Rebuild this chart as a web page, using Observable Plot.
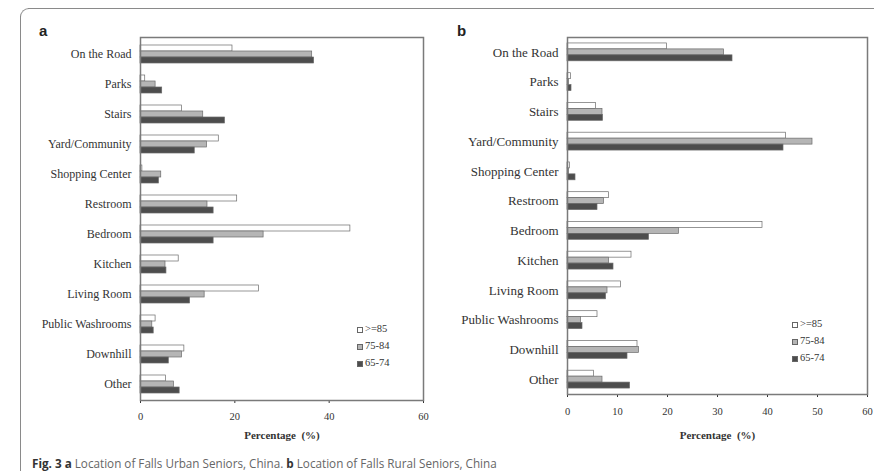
<!DOCTYPE html>
<html>
<head>
<meta charset="utf-8">
<script src="https://cdn.jsdelivr.net/npm/d3@7"></script>
<script src="https://cdn.jsdelivr.net/npm/@observablehq/plot@0.6"></script>
<style>
  html, body { margin: 0; padding: 0; background: #fff; overflow: hidden; }
  body { width: 874px; height: 471px; position: relative; font-family: "Liberation Serif", serif; }
  #ftop { position: absolute; left: 28px; top: 8px; width: 846px; height: 0; border-top: 1.5px solid #8a8a8a; }
  #fleft { position: absolute; left: 20px; top: 16px; width: 0; height: 455px; border-left: 1.5px solid #8a8a8a; }
  #fcorner { position: absolute; left: 20px; top: 8px; width: 16px; height: 16px; border-top: 1.5px solid #8a8a8a; border-left: 1.5px solid #8a8a8a; border-top-left-radius: 9px; box-sizing: border-box; }
  .panel { position: absolute; top: 20px; }
  #pa { left: 20px; }
  #pb { left: 440px; }
  .letter { position: absolute; font-family: "Liberation Sans", Arial, sans-serif; font-weight: bold; font-size: 15px; color: #222; }
  .legend { position: absolute; font-family: "Liberation Serif", serif; color: #333; line-height: 1; }
  .legend div { display: flex; align-items: center; height: 17px; }
  .legend span.sw { display: inline-block; width: 6px; height: 6px; margin-right: 2px; box-sizing: border-box; }
  #caption { position: absolute; left: 32px; top: 455px; font-family: "Open Sans", sans-serif; font-size: 11.7px; color: #666; white-space: nowrap; }
  #caption b { color: #333; }
  svg g[aria-label="x-axis"] text, svg g[aria-label="x-axis tick label"] text { font-size: 10.5px; }
</style>
</head>
<body>
<div id="ftop"></div>
<div id="fleft"></div>
<div id="fcorner"></div>
<div class="letter" style="left:39px;top:22px;">a</div>
<div class="letter" style="left:457px;top:22px;">b</div>
<div id="pa" class="panel"></div>
<div id="pb" class="panel"></div>
<div id="caption"><b>Fig. 3 a</b> Location of Falls Urban Seniors, China. <b>b</b> Location of Falls Rural Seniors, China</div>
<script>
const categories = ["On the Road","Parks","Stairs","Yard/Community","Shopping Center","Restroom","Bedroom","Kitchen","Living Room","Public Washrooms","Downhill","Other"];
const series = [">=85","75-84","65-74"];
const seriesFill = ["#ffffff","#b5b5b5","#4d4d4d"];

// Panel a: urban seniors (%)
const urban85 = [19.5, 1.0, 8.8, 16.6, 0.4, 20.5, 44.5, 8.1, 25.1, 3.2, 9.3, 5.4];
const urban75 = [36.4, 3.2, 13.3, 14.1, 4.4, 14.2, 26.1, 5.3, 13.6, 2.5, 8.8, 7.1];
const urban65 = [36.8, 4.6, 17.9, 11.5, 3.9, 15.5, 15.5, 5.5, 10.5, 2.8, 6.0, 8.3];
const urbanTicks = [0, 20, 40, 60];

// Panel b: rural seniors (%)
const rural85 = [19.9, 0.7, 5.7, 43.7, 0.5, 8.3, 39.0, 12.8, 10.7, 6.0, 14.0, 5.3];
const rural75 = [31.3, 0.3, 7.0, 49.0, 0.3, 7.3, 22.3, 8.3, 8.0, 2.7, 14.3, 7.0];
const rural65 = [33.0, 0.8, 7.1, 43.2, 1.6, 6.0, 16.3, 9.2, 7.7, 3.0, 12.0, 12.5];
const ruralTicks = [0, 10, 20, 30, 40, 50, 60];

const xLabel = "Percentage  (%)";

function makePanel(v85, v75, v65, ticks, cfg) {
  const cols = [v85, v75, v65];
  const data = categories.flatMap((c, i) => series.map((s, j) => ({cat: c, s, v: cols[j][i]})));
  const yDomain = categories.flatMap(c => [c + "|pre", ...series.map(s => c + "|" + s), c + "|post"]);
  return Plot.plot({
    width: cfg.width,
    height: cfg.height,
    marginLeft: cfg.ml,
    marginRight: cfg.mr,
    marginTop: cfg.mt,
    marginBottom: cfg.mb,
    style: {fontFamily: "Liberation Serif, serif", fontSize: cfg.fs + "px", color: "#333", background: "transparent"},
    x: {domain: [0, 60], ticks, tickSize: 3, label: xLabel, labelArrow: "none", labelAnchor: "center", labelOffset: cfg.lo, tickPadding: cfg.tp},
    y: {domain: yDomain, padding: 0, tickSize: 0, tickPadding: 9, label: null,
        tickFormat: d => d.endsWith("|75-84") ? d.split("|")[0] : ""},
    color: {domain: series, range: seriesFill},
    marks: [
      Plot.barX(data, {x: "v", y: d => d.cat + "|" + d.s, fill: "s", stroke: "#6a6a6a", strokeWidth: 0.7, insetTop: 0, insetBottom: 0}),
      Plot.frame({stroke: "#7a7a7a", strokeWidth: 1.5})
    ]
  });
}

const pa = makePanel(urban85, urban75, urban65, urbanTicks, {width: 420, height: 430, ml: 120, mr: 17, mt: 17, mb: 50, fs: 12, lo: 38, tp: 9});
const pb = makePanel(rural85, rural75, rural65, ruralTicks, {width: 434, height: 430, ml: 127, mr: 7, mt: 17, mb: 56, fs: 13, lo: 44, tp: 10});
document.getElementById("pa").appendChild(pa);
document.getElementById("pb").appendChild(pb);

// bold axis titles, no arrows
document.querySelectorAll("svg text").forEach(t => {
  if (t.textContent.startsWith("Percentage")) {
    t.textContent = xLabel;
    t.setAttribute("font-weight", "bold");
    t.setAttribute("font-size", "11px");
    t.style.whiteSpace = "pre";
  }
});

function legend(left, top, fs) {
  const el = document.createElement("div");
  el.className = "legend";
  el.style.left = left + "px";
  el.style.top = top + "px";
  el.style.fontSize = fs + "px";
  series.forEach((s, j) => {
    const row = document.createElement("div");
    const sw = document.createElement("span");
    sw.className = "sw";
    sw.style.background = seriesFill[j];
    sw.style.border = "1px solid #666";
    row.appendChild(sw);
    row.appendChild(document.createTextNode(s));
    el.appendChild(row);
  });
  document.body.appendChild(el);
}
legend(357, 321, 10.5);
legend(792, 316, 10.5);
</script>
</body>
</html>
